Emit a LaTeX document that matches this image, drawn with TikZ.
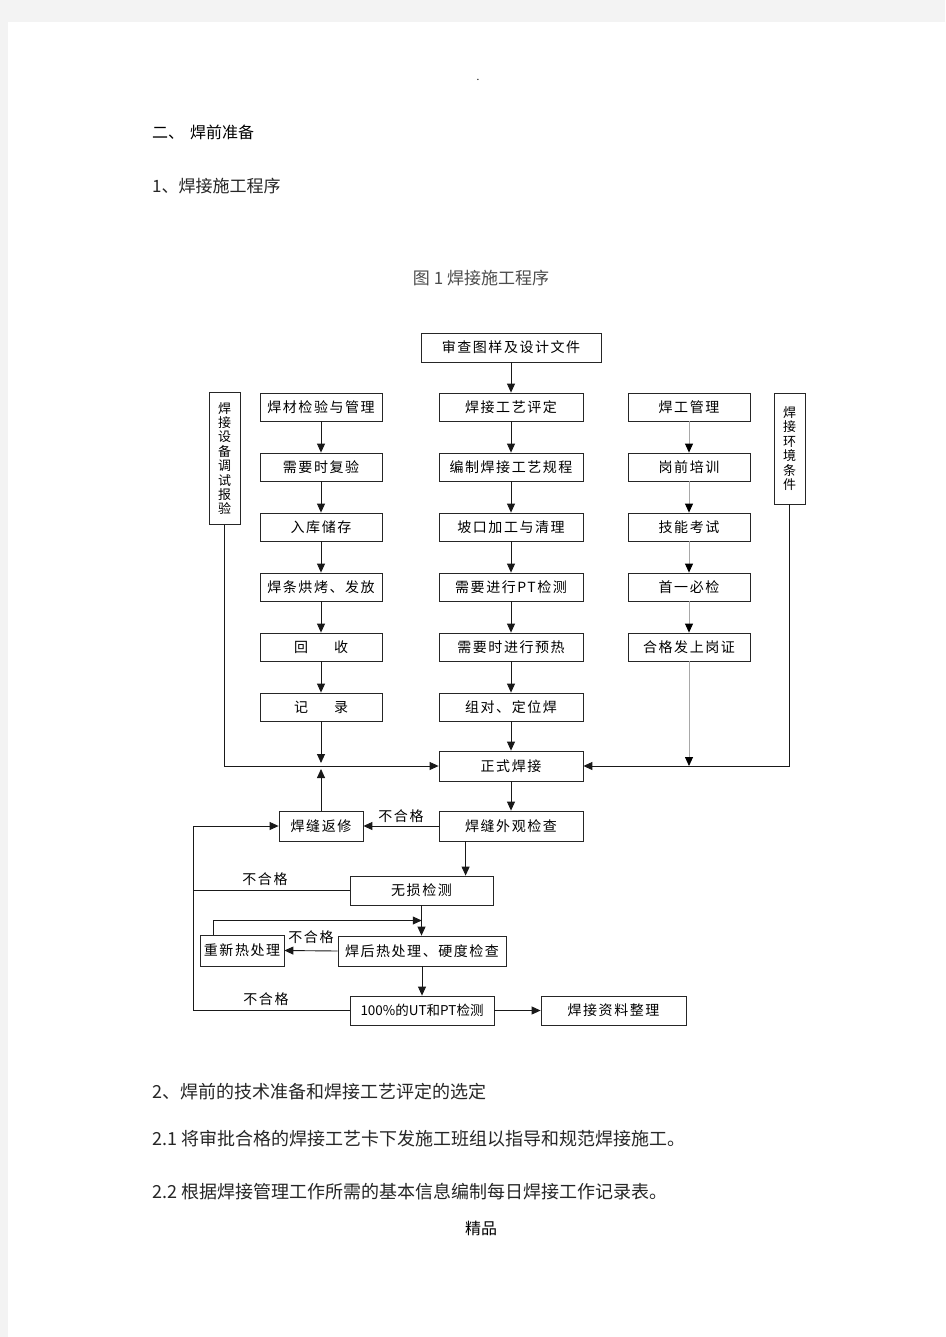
\documentclass[tikz,border=0pt]{standalone}
\usepackage{fontspec}
\setmainfont{Noto Sans CJK SC}
\newfontfamily\boxfont[LetterSpace=11]{Noto Sans CJK SC}
\usetikzlibrary{arrows.meta,calc}
\definecolor{margin}{HTML}{F3F3F3}
\definecolor{linegray}{HTML}{A8A8A8}
\tikzset{
  box/.style={draw=black!85, line width=0.8pt, minimum height=28pt, inner sep=0pt, font=\boxfont\fontsize{14}{16}\selectfont},
  vbox/.style={draw=black!85, line width=0.8pt, inner sep=0pt, align=center, font=\fontsize{13}{14.4}\selectfont},
  conn/.style={line width=0.9pt, draw=black!90},
  arr/.style={conn, -{Triangle[length=9pt,width=8pt]}},
  garr/.style={line width=0.9pt, draw=linegray, -{Triangle[length=9pt,width=8pt,color=black]}},
  lbl/.style={font=\boxfont\fontsize{14}{16}\selectfont, inner sep=0pt},
  body/.style={anchor=base west, inner sep=0pt, font=\fontsize{18}{20}\selectfont, text=black!85}
}
\begin{document}
\begin{tikzpicture}[x=1pt,y=-1pt]
\fill[margin] (0,0) rectangle (945,1337);
\fill[white] (8,22) rectangle (945,1337);
\useasboundingbox (0,0) rectangle (945,1337);

% page texts
\node[inner sep=0pt, font=\fontsize{10}{10}\selectfont] (dot) at (478,80) {.};
\node[body, font=\fontsize{16}{18}\selectfont, text=black] (h1) at (152,139) {二、\hspace{6pt}焊前准备};
\node[body, font=\fontsize{17}{19}\selectfont] (h2) at (152,193) {1、焊接施工程序};
\node[anchor=base, inner sep=0pt, font=\fontsize{17}{19}\selectfont, text=black!70] (cap) at (481,284) {图 1 焊接施工程序};
\node[body] (p1) at (152,1098) {2、焊前的技术准备和焊接工艺评定的选定};
\node[body] (p2) at (152,1145) {2.1 将审批合格的焊接工艺卡下发施工班组以指导和规范焊接施工。};
\node[body] (p3) at (152,1198) {2.2 根据焊接管理工作所需的基本信息编制每日焊接工作记录表。};
\node[anchor=base, inner sep=0pt, font=\fontsize{16}{18}\selectfont, text=black] (jp) at (481,1234) {精品};

% top
\node[box, minimum width=180pt, minimum height=29pt] (sc) at (511,347.5) {审查图样及设计文件};

% left column
\node[box, minimum width=122pt] (l1) at (321,407) {焊材检验与管理};
\node[box, minimum width=122pt] (l2) at (321,467) {需要时复验};
\node[box, minimum width=122pt] (l3) at (321,527) {入库储存};
\node[box, minimum width=122pt] (l4) at (321,587) {焊条烘烤、发放};
\node[box, minimum width=122pt] (l5) at (321,647) {回\hspace{26pt}收};
\node[box, minimum width=122pt] (l6) at (321,707) {记\hspace{26pt}录};

% middle column
\node[box, minimum width=144pt] (m1) at (511,407) {焊接工艺评定};
\node[box, minimum width=144pt] (m2) at (511,467) {编制焊接工艺规程};
\node[box, minimum width=144pt] (m3) at (511,527) {坡口加工与清理};
\node[box, minimum width=144pt] (m4) at (511,587) {需要进行PT检测};
\node[box, minimum width=144pt] (m5) at (511,647) {需要时进行预热};
\node[box, minimum width=144pt] (m6) at (511,707) {组对、定位焊};
\node[box, minimum width=144pt, minimum height=30pt] (zs) at (511,766) {正式焊接};
\node[box, minimum width=144pt, minimum height=30pt] (wg) at (511,826) {焊缝外观检查};

% right column
\node[box, minimum width=122pt] (r1) at (689,407) {焊工管理};
\node[box, minimum width=122pt] (r2) at (689,467) {岗前培训};
\node[box, minimum width=122pt] (r3) at (689,527) {技能考试};
\node[box, minimum width=122pt] (r4) at (689,587) {首一必检};
\node[box, minimum width=122pt] (r5) at (689,647) {合格发上岗证};

% vertical boxes
\node[vbox, minimum width=31pt, minimum height=132pt] (vl) at (224.5,458.5) {焊\\接\\设\\备\\调\\试\\报\\验};
\node[vbox, minimum width=31pt, minimum height=111pt] (vr) at (789.5,448.5) {焊\\接\\环\\境\\条\\件};

% lower part
\node[box, minimum width=84pt, minimum height=30pt] (fx) at (321,826) {焊缝返修};
\node[box, minimum width=143pt, minimum height=29pt] (ws) at (421.5,890.5) {无损检测};
\node[box, minimum width=84pt, minimum height=31pt] (rh) at (242,950.5) {重新热处理};
\node[box, minimum width=168pt, minimum height=30pt] (hr) at (422,951) {焊后热处理、硬度检查};
\node[box, minimum width=144pt, minimum height=29pt, font=\fontsize{13.5}{16}\selectfont] (ut) at (422,1010.5) {100\%的UT和PT检测};
\node[box, minimum width=145pt, minimum height=29pt] (zl) at (613.5,1010.5) {焊接资料整理};

% chains
\foreach \a/\b in {l1/l2,l2/l3,l3/l4,l4/l5,l5/l6,m1/m2,m2/m3,m3/m4,m4/m5,m5/m6,m6/zs,zs/wg}
  \draw[arr] (\a) -- (\b);
\foreach \a/\b in {r1/r2,r2/r3,r3/r4,r4/r5}
  \draw[garr] (\a) -- (\b);
\draw[arr] (sc) -- (m1);

% junctions
\coordinate (jL) at (l6.south |- zs.west);
\coordinate (jR) at (r5.south |- zs.east);
\draw[arr] (vl.south) |- (zs.west);
\draw[arr] (vr.south) |- (zs.east);
\draw[arr] (l6.south) -- ([yshift=3pt]jL);
\draw[arr] (fx.north) -- ([yshift=-3pt]jL);
\draw[garr] (r5.south) -- (jR);

% rework
\draw[arr] (wg.west) -- (fx.east) node[lbl, midway, above=3pt] (n1) {不合格};
\coordinate (wgb) at ([xshift=27pt]wg.south west);
\draw[arr] (wgb) -- (wgb |- ws.north);
\coordinate (L) at (193,826);
\draw[arr] (ut.west) -| (L) -- (fx.west);
\draw[conn] (ws.west) -- (ws.west -| L);
\node[lbl, anchor=base] (n2) at (265,884) {不合格};
\node[lbl, anchor=base] (n4) at (266,1004) {不合格};

\draw[arr] (ws.south) -- (ws.south |- hr.north);
\coordinate (rhT) at ([xshift=14pt]rh.north west);
\draw[arr] (rhT) |- ($(ws.south)!0.5!(hr.north)$);
\draw[arr] (hr.west) -- (rh.east);
\node[lbl, anchor=base] (n3) at (311,942) {不合格};
\draw[arr] (hr.south) -- (ut.north);
\draw[arr] (ut.east) -- (zl.west);
\end{tikzpicture}
\end{document}
